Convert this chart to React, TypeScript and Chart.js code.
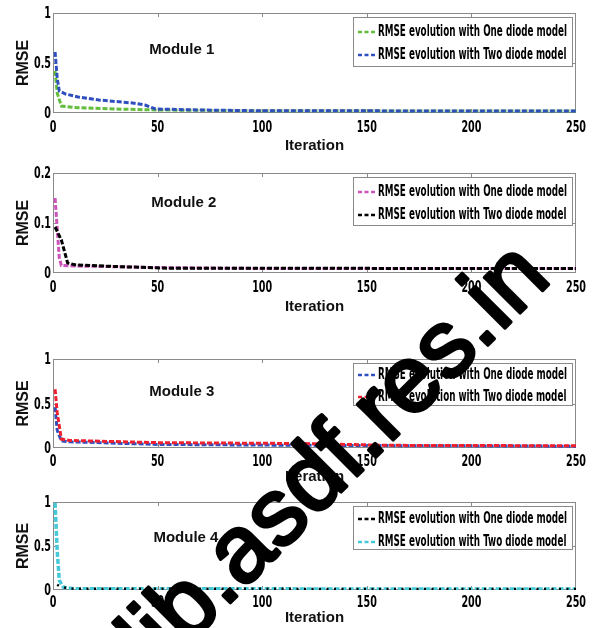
import React, { useEffect, useRef } from 'react';
import { Chart, registerables } from 'chart.js';

Chart.register(...registerables);

// ---------- data ----------
const xTickValues = [0, 50, 100, 150, 200, 250];
const legendOne = 'RMSE evolution with One diode model';
const legendTwo = 'RMSE evolution with Two diode model';
const moduleNames = ['Module 1', 'Module 2', 'Module 3', 'Module 4'];

// Module 1
const m1OneIter = [1, 2, 4, 10, 30, 50, 100, 250];
const m1OneRmse = [0.42, 0.2, 0.07, 0.055, 0.04, 0.03, 0.022, 0.02];
const m1TwoIter = [1, 2, 3, 6, 12, 22, 38, 44, 49, 70, 100, 250];
const m1TwoRmse = [0.61, 0.35, 0.22, 0.19, 0.16, 0.13, 0.1, 0.08, 0.04, 0.03, 0.022, 0.02];

// Module 2
const m2OneIter = [1, 2, 3, 4, 10, 25, 48, 100, 250];
const m2OneRmse = [0.15, 0.09, 0.03, 0.015, 0.014, 0.013, 0.011, 0.009, 0.009];
const m2TwoIter = [1, 4, 7, 11, 30, 55, 250];
const m2TwoRmse = [0.092, 0.066, 0.02, 0.016, 0.013, 0.0095, 0.009];

// Module 3
const m3OneIter = [1, 2, 4, 8, 50, 120, 250];
const m3OneRmse = [0.46, 0.2, 0.08, 0.07, 0.04, 0.03, 0.02];
const m3TwoIter = [1, 2, 4, 8, 50, 120, 160, 250];
const m3TwoRmse = [0.66, 0.4, 0.1, 0.085, 0.06, 0.05, 0.03, 0.025];

// Module 4
const m4OneIter = [2, 3, 6, 10, 250];
const m4OneRmse = [0.06, 0.045, 0.025, 0.015, 0.01];
const m4TwoIter = [1, 2, 3, 5, 10, 250];
const m4TwoRmse = [0.99, 0.45, 0.11, 0.03, 0.015, 0.01];

// ---------- styling / layout ----------
const COND = '"Liberation Sans Narrow", "Arial Narrow", "DejaVu Sans Condensed", sans-serif';
const SANS = '"Liberation Sans", Arial, Helvetica, sans-serif';
const DASH = [5, 2];
const DOT = [2, 5.5];

type Series = { iter: number[]; rmse: number[]; color: string; dash: number[]; width: number; top: boolean; label: string };
type Panel = {
  name: string; yMax: number; yStep: number; areaTop: number; areaH: number; xAxisH: number; tickOff: number;
  nameX: number; nameY: number; legendH: number; rows: number[]; series: Series[];
};

const panels: Panel[] = [
  {
    name: moduleNames[0], yMax: 1, yStep: 0.5, areaTop: 13, areaH: 100, xAxisH: 42, tickOff: 15,
    nameX: 46, nameY: 0.63, legendH: 50, rows: [15, 38],
    series: [
      { iter: m1OneIter, rmse: m1OneRmse, color: '#62bd3c', dash: DASH, width: 3, top: false, label: legendOne },
      { iter: m1TwoIter, rmse: m1TwoRmse, color: '#2f4fbf', dash: DASH, width: 3, top: true, label: legendTwo },
    ],
  },
  {
    name: moduleNames[1], yMax: 0.2, yStep: 0.1, areaTop: 173, areaH: 100, xAxisH: 43, tickOff: 15,
    nameX: 47, nameY: 0.14, legendH: 49, rows: [15, 38],
    series: [
      { iter: m2OneIter, rmse: m2OneRmse, color: '#cc55bb', dash: DASH, width: 3, top: false, label: legendOne },
      { iter: m2TwoIter, rmse: m2TwoRmse, color: '#000000', dash: DASH, width: 3, top: true, label: legendTwo },
    ],
  },
  {
    name: moduleNames[2], yMax: 1, yStep: 0.5, areaTop: 359, areaH: 89, xAxisH: 38, tickOff: 14,
    nameX: 46, nameY: 0.63, legendH: 43, rows: [12, 34],
    series: [
      { iter: m3OneIter, rmse: m3OneRmse, color: '#2f4fbf', dash: DASH, width: 3, top: false, label: legendOne },
      { iter: m3TwoIter, rmse: m3TwoRmse, color: '#ee2030', dash: DASH, width: 3, top: true, label: legendTwo },
    ],
  },
  {
    name: moduleNames[3], yMax: 1, yStep: 0.5, areaTop: 502, areaH: 88, xAxisH: 37, tickOff: 13,
    nameX: 48, nameY: 0.59, legendH: 44, rows: [13, 36],
    series: [
      { iter: m4OneIter, rmse: m4OneRmse, color: '#000000', dash: DOT, width: 2.5, top: true, label: legendOne },
      { iter: m4TwoIter, rmse: m4TwoRmse, color: '#45c8d8', dash: DASH, width: 3.5, top: false, label: legendTwo },
    ],
  },
];

const PAD_TOP = 13;
const PAD_RIGHT = 16;
const Y_AXIS_W = 53;

function fmt(v: number) {
  return String(Math.round(v * 1000) / 1000);
}

function makeDeco(p: Panel) {
  return {
    id: 'panelDeco',
    beforeDatasetsDraw(chart: any) {
      const { ctx, chartArea: a, scales } = chart;
      ctx.save();
      ctx.strokeStyle = '#8a8a8a';
      ctx.lineWidth = 1;
      ctx.strokeRect(a.left + 0.5, a.top + 0.5, a.right - a.left - 1, a.bottom - a.top - 1);
      ctx.beginPath();
      for (const t of scales.x.ticks) {
        const v = t.value;
        if (v <= 0 || v >= 250) continue;
        const x = Math.round(scales.x.getPixelForValue(v)) + 0.5;
        ctx.moveTo(x, a.top); ctx.lineTo(x, a.top + 4);
        ctx.moveTo(x, a.bottom); ctx.lineTo(x, a.bottom - 4);
      }
      for (const t of scales.y.ticks) {
        const v = t.value;
        if (v <= 0 || v >= p.yMax - 1e-9) continue;
        const y = Math.round(scales.y.getPixelForValue(v)) + 0.5;
        ctx.moveTo(a.left, y); ctx.lineTo(a.left + 4, y);
        ctx.moveTo(a.right, y); ctx.lineTo(a.right - 4, y);
      }
      ctx.stroke();
      ctx.restore();
    },
    afterDraw(chart: any) {
      const { ctx, chartArea: a, scales } = chart;
      ctx.save();
      // tick labels (condensed, from the scales' ticks)
      ctx.fillStyle = '#000';
      ctx.font = `bold 16px ${COND}`;
      const tsx = 20 / ctx.measureText('250').width;
      ctx.textBaseline = 'middle';
      for (const t of scales.x.ticks) {
        ctx.save();
        ctx.translate(scales.x.getPixelForValue(t.value), a.bottom + p.tickOff);
        ctx.scale(tsx, 1);
        ctx.textAlign = 'center';
        ctx.fillText(fmt(t.value), 0, 0);
        ctx.restore();
      }
      for (const t of scales.y.ticks) {
        ctx.save();
        ctx.translate(a.left - 2, scales.y.getPixelForValue(t.value) + 1);
        ctx.scale(tsx, 1);
        ctx.textAlign = 'right';
        ctx.fillText(fmt(t.value), 0, 0);
        ctx.restore();
      }
      // module name
      ctx.fillStyle = '#111';
      ctx.font = `bold 15px ${SANS}`;
      ctx.textAlign = 'left';
      ctx.textBaseline = 'middle';
      ctx.fillText(p.name, scales.x.getPixelForValue(p.nameX), scales.y.getPixelForValue(p.nameY));
      // legend
      const bw = 220;
      const bx = a.right - 3 - bw;
      const by = a.top + 4;
      ctx.fillStyle = '#fff';
      ctx.fillRect(bx, by, bw, p.legendH);
      ctx.strokeStyle = '#8a8a8a';
      ctx.lineWidth = 1;
      ctx.strokeRect(bx + 0.5, by + 0.5, bw - 1, p.legendH - 1);
      ctx.font = `bold 15px ${COND}`;
      const sx = 189 / ctx.measureText(legendOne).width;
      p.series.forEach((s, i) => {
        const y = by + p.rows[i];
        ctx.save();
        ctx.strokeStyle = s.color;
        ctx.lineWidth = 2.5;
        ctx.setLineDash([4, 2.5]);
        ctx.beginPath();
        ctx.moveTo(bx + 5, y); ctx.lineTo(bx + 24, y);
        ctx.stroke();
        ctx.restore();
        ctx.save();
        ctx.fillStyle = '#000';
        ctx.textAlign = 'left';
        ctx.textBaseline = 'middle';
        ctx.translate(bx + 25, y);
        ctx.scale(sx, 1);
        ctx.fillText(s.label, 0, 0);
        ctx.restore();
      });
      ctx.restore();
    },
  };
}

function PanelChart({ p }: { p: Panel }) {
  const ref = useRef<HTMLCanvasElement | null>(null);
  const h = PAD_TOP + p.areaH + p.xAxisH;
  useEffect(() => {
    if (!ref.current) return;
    const chart = new Chart(ref.current, {
      type: 'line',
      data: {
        datasets: p.series.map((s) => ({
          label: s.label,
          data: s.iter.map((x, i) => ({ x, y: s.rmse[i] })),
          borderColor: s.color,
          backgroundColor: s.color,
          borderWidth: s.width,
          borderDash: s.dash,
          borderCapStyle: 'butt',
          pointRadius: 0,
          fill: false,
          tension: 0,
          order: s.top ? 0 : 1,
        })),
      },
      options: {
        responsive: false,
        animation: false,
        events: [],
        layout: { padding: { top: PAD_TOP, right: PAD_RIGHT, left: 0, bottom: 0 } },
        plugins: { legend: { display: false }, tooltip: { enabled: false } },
        scales: {
          x: {
            type: 'linear', min: 0, max: 250,
            afterFit: (s: any) => { s.height = p.xAxisH; },
            afterBuildTicks: (s: any) => { s.ticks = xTickValues.map((v) => ({ value: v })); },
            grid: { display: false, drawTicks: false },
            border: { display: false },
            ticks: { display: false, stepSize: 50 },
            title: {
              display: true, text: 'Iteration', color: '#111',
              font: { family: SANS, size: 15, weight: 'bold' }, padding: { top: 0, bottom: 0 },
            },
          },
          y: {
            type: 'linear', min: 0, max: p.yMax,
            afterFit: (s: any) => { s.width = Y_AXIS_W; },
            grid: { display: false, drawTicks: false },
            border: { display: false },
            ticks: { display: false, stepSize: p.yStep },
            title: {
              display: true, text: 'RMSE', color: '#111',
              font: { family: SANS, size: 16, weight: 'bold' }, padding: { top: 14, bottom: 0 },
            },
          },
        },
      },
      plugins: [makeDeco(p)],
    } as any);
    return () => chart.destroy();
  }, [p]);
  return (
    <div style={{ position: 'absolute', left: 0, top: p.areaTop - PAD_TOP, width: 592, height: h }}>
      <canvas ref={ref} width={592} height={h} style={{ display: 'block' }} />
    </div>
  );
}

export default function App() {
  return (
    <div style={{ position: 'absolute', left: 0, top: 0, width: 592, height: 628, background: '#fff', overflow: 'hidden' }}>
      {panels.map((p) => <PanelChart key={p.name} p={p} />)}
      <svg width={592} height={628} style={{ position: 'absolute', left: 0, top: 0, pointerEvents: 'none' }}>
        <text transform="translate(157,676) rotate(-45)" fontFamily={SANS} fontSize={95} fill="#000"
          stroke="#000" strokeWidth={3.5} strokeLinejoin="round">lib.asdf.res.in</text>
      </svg>
    </div>
  );
}
